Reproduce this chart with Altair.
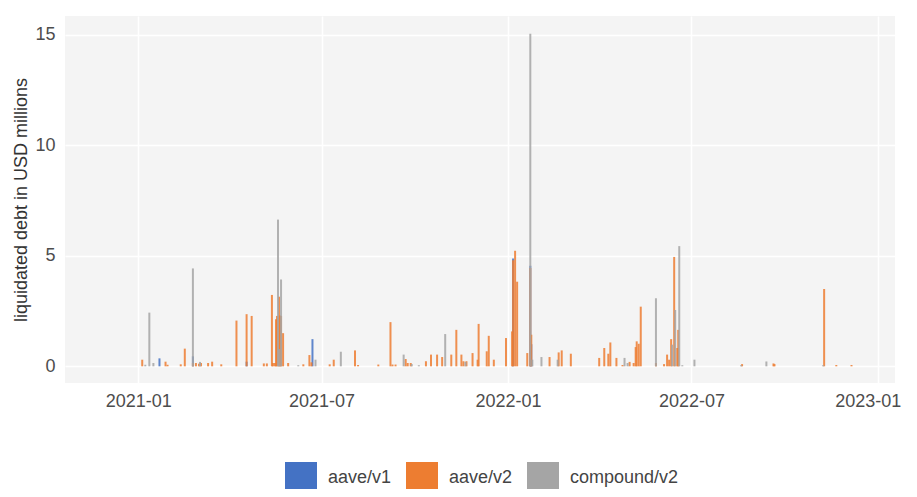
import altair as alt
import pandas as pd

series_names = ["aave/v1", "aave/v2", "compound/v2"]
series_colors = ["#4472C4", "#ED7D31", "#A5A5A5"]

v1_dates = ["2021-01-22", "2021-02-24", "2021-04-18", "2021-06-22", "2022-01-06",
            "2022-01-23", "2022-01-24"]
v1_vals = [0.36, 0.45, 0.21, 1.23, 4.88, 4.55, 1.00]

v2_dates = ["2021-01-05", "2021-01-28", "2021-01-30", "2021-02-12", "2021-02-16",
            "2021-02-24", "2021-02-27", "2021-03-02", "2021-03-04", "2021-03-11",
            "2021-03-15", "2021-03-24", "2021-04-08", "2021-04-18", "2021-04-23",
            "2021-05-05", "2021-05-08", "2021-05-13", "2021-05-14", "2021-05-16",
            "2021-05-17", "2021-05-18", "2021-05-20", "2021-05-21", "2021-05-22",
            "2021-05-24", "2021-05-29", "2021-06-13", "2021-06-19", "2021-06-21",
            "2021-07-09", "2021-07-13", "2021-08-03", "2021-08-06", "2021-08-26",
            "2021-09-07", "2021-09-09", "2021-09-12", "2021-09-22", "2021-09-24",
            "2021-09-27", "2021-10-12", "2021-10-17", "2021-10-23", "2021-10-28",
            "2021-11-06", "2021-11-11", "2021-11-16", "2021-11-18", "2021-11-21",
            "2021-11-27", "2021-12-02", "2021-12-03", "2021-12-11", "2021-12-13",
            "2021-12-18", "2021-12-30", "2022-01-05", "2022-01-06", "2022-01-08",
            "2022-01-10", "2022-01-20", "2022-01-23", "2022-01-24", "2022-02-11",
            "2022-02-20", "2022-02-23", "2022-03-04", "2022-04-01", "2022-04-06",
            "2022-04-10", "2022-04-12", "2022-04-18", "2022-04-24", "2022-05-01",
            "2022-05-05", "2022-05-07", "2022-05-08", "2022-05-10", "2022-05-12",
            "2022-05-27", "2022-06-04", "2022-06-07", "2022-06-09", "2022-06-11",
            "2022-06-14", "2022-06-17", "2022-06-18", "2022-08-20", "2022-09-20",
            "2022-09-21", "2022-11-09", "2022-11-21", "2022-12-06"]
v2_vals = [0.30, 0.21, 0.07, 0.09, 0.80,
           0.15, 0.15, 0.12, 0.15, 0.15,
           0.21, 0.09, 2.07, 2.36, 2.28,
           0.13, 0.13, 3.23, 0.15, 0.15,
           2.13, 2.28, 3.15, 2.30, 2.28,
           1.50, 0.15, 0.09, 0.51, 0.18,
           0.09, 0.30, 0.72, 0.06, 0.08,
           2.00, 0.08, 0.08, 0.33, 0.15,
           0.15, 0.23, 0.53, 0.53, 0.42,
           0.53, 1.65, 0.53, 0.23, 0.23,
           0.60, 0.30, 1.92, 0.68, 1.38,
           0.30, 1.28, 1.58, 4.80, 5.23,
           3.83, 0.60, 4.45, 1.43, 0.42,
           0.63, 0.72, 0.57, 0.38, 0.83,
           0.57, 1.08, 0.38, 0.06, 0.20,
           0.15, 0.87, 1.13, 1.02, 2.70,
           0.15, 0.10, 0.53, 0.30, 1.23,
           4.95, 0.83, 1.65, 0.10, 0.13,
           0.10, 3.50, 0.06, 0.06]

c2_dates = ["2021-01-08", "2021-01-12", "2021-01-16", "2021-02-24", "2021-03-03",
            "2021-05-19", "2021-05-20", "2021-05-22", "2021-06-08", "2021-06-25",
            "2021-07-20", "2021-09-20", "2021-09-28", "2021-10-05", "2021-10-31",
            "2021-11-20", "2022-01-23", "2022-01-25", "2022-02-03", "2022-02-19",
            "2022-04-26", "2022-04-29", "2022-05-27", "2022-06-12", "2022-06-15",
            "2022-06-19", "2022-06-22", "2022-07-04", "2022-08-19", "2022-09-13",
            "2022-11-08"]
c2_vals = [0.07, 2.43, 0.15, 4.43, 0.20,
           6.64, 0.78, 3.93, 0.05, 0.30,
           0.66, 0.53, 0.10, 0.05, 1.46,
           0.20, 15.05, 0.30, 0.42, 0.30,
           0.38, 0.15, 3.08, 0.98, 2.55,
           5.44, 0.05, 0.30, 0.05, 0.22,
           0.05]

y_ticks = [0, 5, 10, 15]
x_ticks = [(2021, 1), (2021, 7), (2022, 1), (2022, 7), (2023, 1)]

rows = []
for name, ds, vs in zip(series_names, [v1_dates, v2_dates, c2_dates], [v1_vals, v2_vals, c2_vals]):
    for d, v in zip(ds, vs):
        rows.append({"date": d, "value": v, "protocol": name, "zero": 0})
df = pd.DataFrame(rows)

FONT = "Liberation Sans"

x_dom = [alt.DateTime(year=2020, month=10, date=25, hours=17, utc=True),
         alt.DateTime(year=2023, month=1, date=13, utc=True)]

chart = alt.Chart(df).mark_bar(size=2, opacity=0.85).encode(
    x=alt.X("date:T",
            scale=alt.Scale(type="utc", domain=x_dom),
            axis=alt.Axis(title=None, values=[alt.DateTime(year=y, month=m, date=1, utc=True) for y, m in x_ticks],
                          format="%Y-%m", labelFontSize=18, labelColor="#4D4D4D",
                          labelFont=FONT, ticks=False, tickSize=0, domain=False,
                          labelPadding=9, labelOverlap=False, labelBound=False,
                          labelOffset={"condition": {"test": "utcyear(datum.value) >= 2023", "value": -10}, "value": 0},
                          gridColor="#FFFFFF", gridWidth=1.5, gridOpacity=1)),
    y=alt.Y("value:Q",
            scale=alt.Scale(domain=[-0.755, 15.855], nice=False, zero=False),
            axis=alt.Axis(title="liquidated debt in USD millions", values=y_ticks,
                          labelFontSize=18, labelColor="#4D4D4D", labelFont=FONT,
                          titleFont=FONT, titleFontSize=18, titleFontWeight="normal",
                          titleColor="#333333", titlePadding=4,
                          ticks=False, tickSize=0, domain=False, labelPadding=10,
                          gridColor="#FFFFFF", gridWidth=1.5, gridOpacity=1)),
    y2=alt.Y2("zero:Q"),
    color=alt.Color("protocol:N",
                    scale=alt.Scale(domain=series_names, range=series_colors),
                    legend=alt.Legend(title=None, orient="none", legendX=220, legendY=446,
                                      direction="horizontal", symbolType="square",
                                      symbolSize=1024, symbolOpacity=1, symbolStrokeWidth=0,
                                      labelFontSize=18, labelFont=FONT, labelColor="#444444",
                                      labelOffset=11, columnPadding=14, padding=0)),
).properties(
    width=830, height=367,
    autosize=alt.AutoSizeParams(type="none"),
    padding={"left": 57, "top": 8, "right": 14, "bottom": 106},
).configure(
    background="white"
).configure_view(
    fill="#F4F4F4", stroke=None
)

chart.save("out.html", embed_options={"renderer": "svg", "actions": False})
